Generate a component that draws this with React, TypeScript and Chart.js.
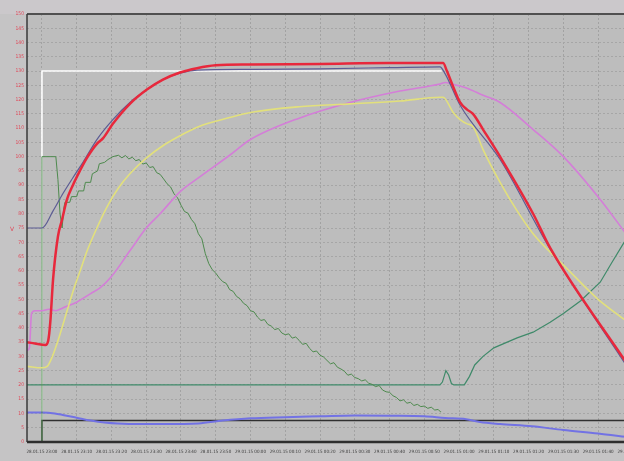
import React, { useEffect, useRef } from "react";
import { Chart, registerables } from "chart.js";
Chart.register(...registerables);

// x values are minutes after 28.01.15 23:00
const xTickLabels = [
  "28.01.15 23:00", "28.01.15 23:10", "28.01.15 23:20", "28.01.15 23:30", "28.01.15 23:40", "28.01.15 23:50",
  "29.01.15 00:00", "29.01.15 00:10", "29.01.15 00:20", "29.01.15 00:30", "29.01.15 00:40", "29.01.15 00:50",
  "29.01.15 01:00", "29.01.15 01:10", "29.01.15 01:20", "29.01.15 01:30", "29.01.15 01:40", "29.01.15 01:50",
];

const redT = [-4.3, -2, 1.0, 1.8, 2.4, 3.2, 4.6, 5.8, 7.2, 8.9, 10.9, 12.9, 15.8, 17.6, 20.4, 25.3, 30.2, 34.8, 39.7, 44.6, 50, 60, 80, 100, 110, 115.4, 116.5, 118.3, 120.3, 122.3, 124, 126.9, 131.8, 141.3, 146.2, 168];
const redV = [35, 34.5, 34, 35.5, 42, 57, 72, 78, 85, 90, 95, 99.5, 104.5, 106.5, 111.5, 118.5, 123.5, 127, 129.5, 131, 132, 132.3, 132.5, 132.8, 132.8, 132.8, 130, 124.5, 119, 116.5, 115, 109.5, 100, 80, 68, 28];

const slateT = [-4.3, 0, 3.2, 6, 8.9, 11.8, 15.8, 20.4, 25.3, 30.2, 34.8, 39.7, 44.6, 60, 80, 100, 114.5, 116, 120.3, 131.8, 146, 168];
const slateV = [75, 75, 81, 87, 92.6, 98, 106, 113, 119, 123.5, 127, 129.3, 130.3, 130.6, 130.8, 131.2, 131.5, 129, 118, 99, 68, 27];

const whiteT = [0, 0, 115];
const whiteV = [0, 130, 130];

const yellowT = [-4.3, 0, 1.5, 3, 5, 7, 9, 11, 13, 15.8, 19, 22, 25.3, 30, 35, 40, 45, 54, 60, 74, 88.6, 103, 114.5, 115.4, 118.3, 120.3, 122.3, 124, 126.9, 131.8, 136.7, 141.3, 146.2, 150, 160, 168];
const yellowV = [26.5, 26, 26.5, 30, 37, 45, 53, 60, 67, 75, 83, 89, 94, 99.5, 104, 107.5, 110.5, 113.7, 115.5, 117.5, 118.5, 119.5, 120.8, 120.8, 115.5, 113, 111.5, 110.6, 102.5, 91, 81, 73, 66.5, 62, 50, 42.5];

const violetT = [-4.3, -3.6, -3, -2, 0, 2, 4, 6, 10, 14, 16.7, 20, 25.3, 30, 34, 40, 45.5, 54, 60, 74, 88.6, 103, 114.5, 116, 118, 122.3, 126.9, 131.8, 141.3, 150, 160.6, 168];
const violetV = [32, 33, 45, 46, 46, 46.5, 46, 47, 49, 52, 54, 58, 67, 75, 80, 88, 93, 100.5, 106, 113.5, 119, 123, 125.5, 126, 125.5, 124, 121.5, 119, 109.5, 100, 85, 73];

const greenT = [0, 0, 4, 4.6, 5.2, 5.8, 6.3, 6.6, 8, 8.5, 10, 10.5, 12, 12.5, 14, 14.5, 16, 16.5, 18, 19, 20.4, 22, 23, 24, 25, 26, 27, 28, 29, 30, 31, 32, 33, 34, 35, 36, 37, 38, 39, 40, 41, 42, 43, 44, 45, 46, 47, 48, 49, 50, 51, 52, 53, 54, 55, 56, 57, 58, 59, 60, 61, 62, 63, 64, 65, 66, 67, 68, 69, 70, 71, 72, 73, 74, 75, 76, 77, 78, 79, 80, 81, 82, 83, 84, 85, 86, 87, 88, 89, 90, 91, 92, 93, 94, 95, 96, 97, 98, 99, 100, 101, 102, 103, 104, 105, 106, 107, 108, 109, 110, 111, 112, 113, 114, 114.6, 114.7];
const greenV = [0, 100, 100, 92, 80, 75, 82, 84, 84, 86, 86, 88, 88, 91, 91, 94, 95, 97.5, 98, 99, 100, 100.5, 99.6, 100.4, 99.2, 99.8, 98.6, 99, 97.4, 97.8, 96.2, 96.5, 94.4, 93.8, 92.2, 90.5, 89.4, 87, 85.6, 83, 80.8, 80.2, 78, 76.5, 73, 71.2, 66, 62.5, 60.4, 59.2, 57.5, 56.2, 55.6, 53.4, 52.8, 51, 50.2, 48.6, 47.8, 46, 45.6, 43.8, 42.6, 42.9, 41.2, 40.6, 39.4, 39.8, 38.2, 37.6, 37.9, 36.4, 36.8, 35.6, 34.2, 34.6, 32.8, 31.6, 31.9, 30.4, 29.8, 28.6, 27.4, 27.8, 26.2, 25.6, 24.8, 23.4, 23.8, 22.6, 22.2, 21.4, 21.8, 20.6, 20.2, 19.4, 19.8, 18.2, 17.6, 17.4, 16.2, 15.6, 14.4, 14.8, 13.6, 13.9, 12.8, 13.2, 12.4, 12.6, 11.8, 12.2, 11.2, 11.4, 10.6, 10.5, 0];

const tealT = [-4.3, 114.5, 115.2, 116.2, 117, 117.8, 118.5, 121.5, 123, 124.5, 126.9, 130, 136.7, 141.3, 146.2, 150, 155, 160.6, 164, 168];
const tealV = [20, 20, 21, 25, 23.5, 20.5, 20, 20, 23, 27, 30, 33, 36.5, 38.5, 42, 45, 49.5, 56, 63, 71];

const blackT = [0, 0, 178];
const blackV = [0, 7.5, 7.5];

const lowBlueT = [-4.3, 0, 3.7, 6, 10, 14, 18, 25, 35, 45, 52, 60, 70, 80, 90, 100, 110, 116, 122, 126, 131.8, 141, 150, 160, 168];
const lowBlueV = [10.3, 10.3, 10, 9.5, 8.5, 7.5, 6.8, 6.3, 6.3, 6.5, 7.5, 8.3, 8.7, 9, 9.3, 9.2, 9, 8.4, 8, 7, 6.3, 5.5, 4.2, 3, 1.8];

const pts = (t: number[], v: number[]) => t.map((x, i) => ({ x, y: v[i] }));

const bgPlugin = {
  id: "bg",
  beforeDraw(chart: any) {
    const { ctx, chartArea } = chart;
    const { left, top, right, bottom } = chartArea;
    ctx.save();
    ctx.fillStyle = "#c5c4c5";
    ctx.fillRect(0, 0, chart.width, chart.height);
    ctx.fillStyle = "#cbc8cb";
    ctx.fillRect(0, 0, chart.width, top);
    ctx.fillStyle = "#bdbdbd";
    ctx.fillRect(left, top, right - left, bottom - top);
    ctx.restore();
  },
  afterDatasetsDraw(chart: any) {
    const { ctx, chartArea } = chart;
    const { left, top, right, bottom } = chartArea;
    ctx.save();
    ctx.strokeStyle = "#505050";
    ctx.lineWidth = 2;
    ctx.beginPath();
    ctx.moveTo(left, top);
    ctx.lineTo(right, top);
    ctx.stroke();
    ctx.strokeStyle = "#3a3a3a";
    ctx.lineWidth = 1.5;
    ctx.beginPath();
    ctx.moveTo(left, top);
    ctx.lineTo(left, bottom);
    ctx.stroke();
    ctx.strokeStyle = "#2e2e2e";
    ctx.lineWidth = 2.5;
    ctx.beginPath();
    ctx.moveTo(left, bottom);
    ctx.lineTo(right, bottom);
    ctx.stroke();
    ctx.fillStyle = "#e04858";
    ctx.font = "6px 'DejaVu Sans'";
    ctx.fillText("V", 10, 231);
    ctx.restore();
  },
};

export default function App() {
  const ref = useRef<HTMLCanvasElement | null>(null);
  useEffect(() => {
    if (!ref.current) return;
    const line = (data: any, color: string, width: number, smooth = true) => ({
      data,
      borderColor: color,
      backgroundColor: color,
      borderWidth: width,
      pointRadius: 0,
      fill: false,
      tension: smooth ? 0.4 : 0,
      cubicInterpolationMode: smooth ? "monotone" : "default",
    });
    const chart = new Chart(ref.current, {
      type: "line",
      data: {
        datasets: [
          line(pts(redT, redV), "#e8283c", 2.5),
          line(pts(slateT, slateV), "#5c5c94", 1.2),
          line(pts(yellowT, yellowV), "#e2e07c", 1.6),
          line(pts(violetT, violetV), "#d47ed8", 1.6),
          line(pts(greenT, greenV), "#4e8a4e", 1, false),
          line(pts(tealT, tealV), "#3f8a6a", 1.2, false),
          line(pts(lowBlueT, lowBlueV), "#7272e4", 2),
          line(pts(blackT, blackV), "#303030", 1.5, false),
          line(pts(whiteT, whiteV), "#ffffff", 1.6, false),
        ] as any,
      },
      options: {
        animation: false,
        responsive: false,
        layout: { padding: { top: 14, left: 0, right: 0, bottom: 0 } },
        plugins: { legend: { display: false }, tooltip: { enabled: false } },
        scales: {
          x: {
            type: "linear",
            min: -4.3,
            max: 177.8,
            afterFit: (s: any) => { s.height = 19; },
            border: { display: false, dash: [2, 2] },
            grid: { color: "#a2a2a2", drawTicks: false, lineWidth: 1 },
            ticks: {
              stepSize: 10,
              includeBounds: false,
              autoSkip: false,
              maxRotation: 0,
              padding: 7,
              color: "#3a3a3a",
              font: { size: 4.5, family: "'Liberation Sans Narrow', 'DejaVu Sans Condensed', 'Liberation Sans'" },
              callback: (v: any) => {
                const i = Math.round(Number(v) / 10);
                return xTickLabels[i] ?? "";
              },
            },
          },
          y: {
            min: 0,
            max: 150,
            afterFit: (s: any) => { s.width = 27; },
            border: { display: false, dash: [2, 2] },
            grid: { color: "#a6a6a6", drawTicks: false, lineWidth: 1 },
            ticks: {
              stepSize: 5,
              autoSkip: false,
              padding: 3,
              color: "#e04858",
              font: { size: 5, family: "'Liberation Sans Narrow', 'DejaVu Sans Condensed', 'Liberation Sans'" },
            },
          },
        },
      } as any,
      plugins: [bgPlugin],
    });
    return () => chart.destroy();
  }, []);
  return (
    <div style={{ position: "fixed", left: 0, top: 0, width: 624, height: 461, overflow: "hidden", background: "#c5c4c5" }}>
      <canvas ref={ref} width={660} height={461} style={{ display: "block", width: 660, height: 461 }} />
    </div>
  );
}
